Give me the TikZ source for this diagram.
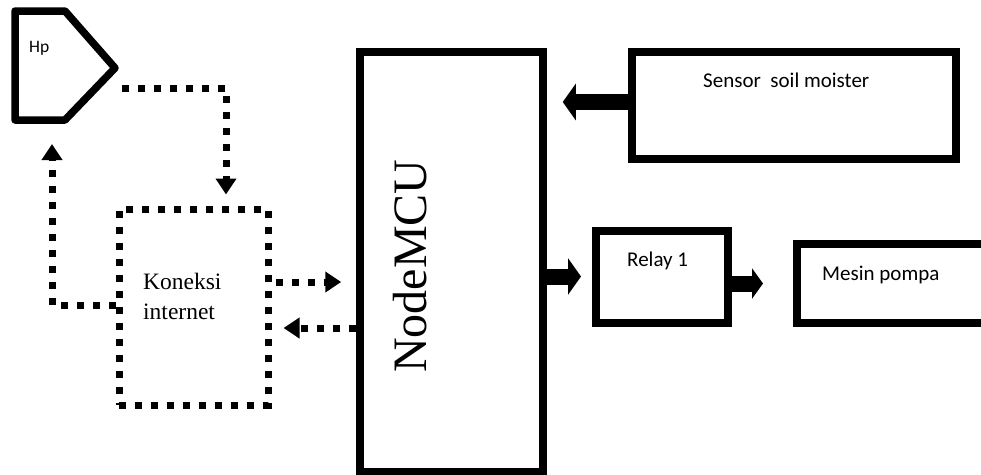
\documentclass[tikz,border=0pt]{standalone}
\usepackage{fontspec}
\setmainfont{Liberation Serif}
\newfontfamily\calibri{Carlito}
\usetikzlibrary{arrows.meta, calc}

\tikzset{
    box/.style={draw, line width=8pt, inner sep=0pt},
    dotline/.style={line width=7pt, dash pattern=on 7pt off 9pt},
    dotarrow/.style={dotline, -{Triangle[width=20pt,length=16pt]}},
    fatarrow/.style={line width=16pt, -{Triangle[width=36pt,length=13pt]}},
    sanslabel/.style={font=\calibri\fontsize{21}{25}\selectfont, inner sep=0pt, anchor=base west}
}

\begin{document}
\begin{tikzpicture}[x=1pt, y=-1pt]
    \useasboundingbox (0,0) rectangle (981,474);

    % Hp
    \draw[line width=7.5pt, line join=round] (15,11) -- (65,11) -- (115,68) -- (65,120) -- (15,120) -- cycle;
    \node[sanslabel, font=\calibri\fontsize{17.5}{20}\selectfont] (hp) at (29,52) {Hp};
    \coordinate (hp out) at (122,88);
    \coordinate (hp in) at (52,144);

    % blocks
    \node[box, line width=7.5pt, minimum width=183pt, minimum height=420pt] (mcu) at (451.5,262) {};
    \node[rotate=90, inner sep=0pt, font=\fontsize{48}{50}\selectfont] (mcu text) at (410,266) {NodeMCU};

    \node[box, minimum width=324pt, minimum height=107pt] (sensor) at (794,105.5) {};
    \node[sanslabel] (sensor text) at (703,87) {Sensor\ \ soil moister};

    \node[box, minimum width=132pt, minimum height=92pt] (relay) at (662,276.5) {};
    \node[sanslabel] (relay text) at (627,266) {Relay 1};

    \node[box, minimum width=200pt, minimum height=79pt] (mesin) at (897,283.5) {};
    \node[sanslabel] (mesin text) at (822,280) {Mesin pompa};

    \node[draw, dotline, inner sep=0pt, minimum width=149pt, minimum height=196pt] (koneksi) at (193.5,307) {};
    \node[anchor=west, align=left, inner sep=0pt, font=\fontsize{23.5}{30}\selectfont] (koneksi text) at (143,296) {Koneksi\\internet};

    % dotted links
    \draw[dotarrow] (hp out) -| ($(koneksi.north)+(32.5,-11)$);
    \draw[dotarrow] ($(koneksi.west)+(0,-2)$) -| (hp in);
    \draw[dotarrow] ($(koneksi.east)+(4,-25)$) -- ($(koneksi.east -| mcu.west)+(-15,-25)$);
    \draw[dotarrow] ($(koneksi.east -| mcu.west)+(0,21)$) -- ($(koneksi.east)+(12,21)$);

    % solid links
    \draw[fatarrow] ($(sensor.west)+(0,-3.5)$) -- ($(sensor.west -| mcu.east)+(16,-3.5)$);
    \draw[fatarrow] (mcu.east |- relay.west) -- ($(relay.west)+(-11,0)$);
    \draw[fatarrow, -{Triangle[width=30pt,length=11pt]}] (relay.east |- mesin.west) -- ($(mesin.west)+(-30,0)$);
\end{tikzpicture}
\end{document}
